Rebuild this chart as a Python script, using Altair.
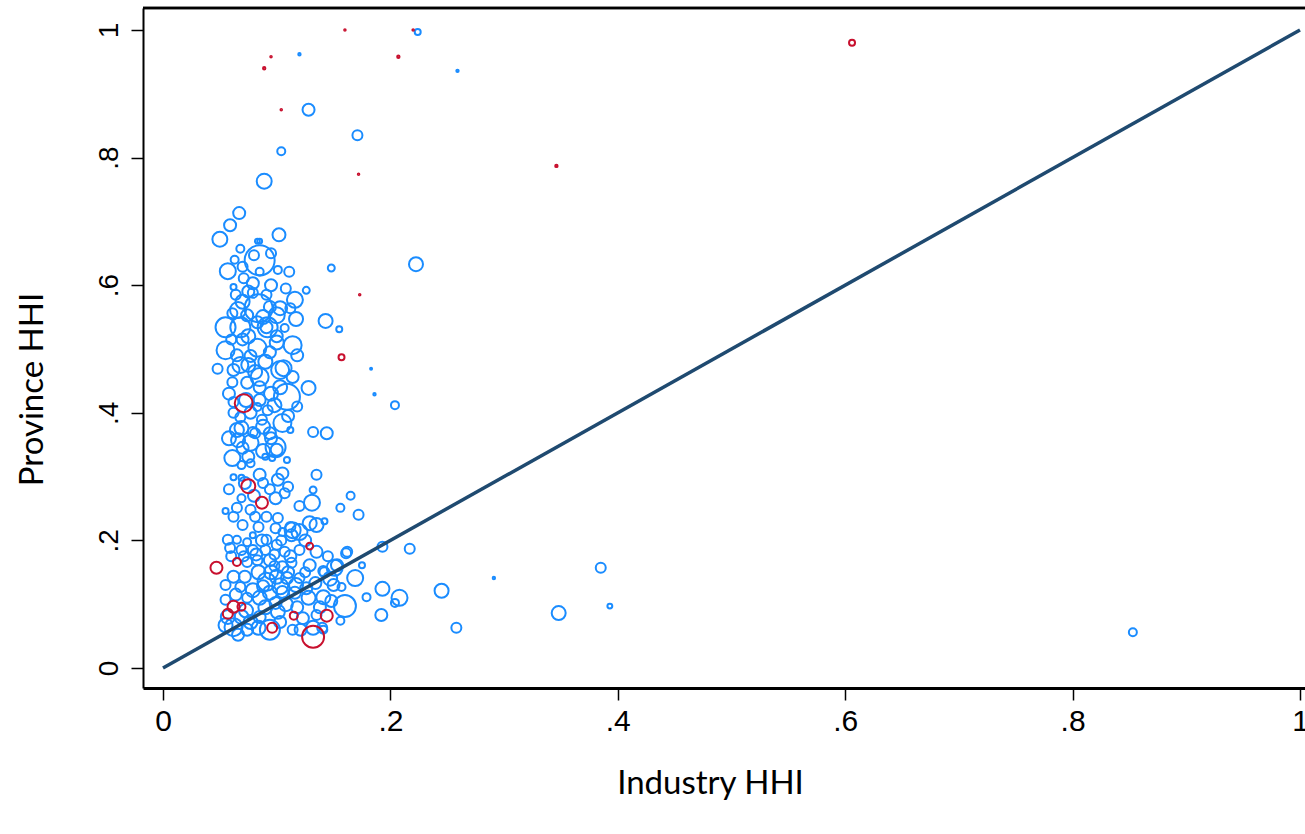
import altair as alt
import pandas as pd

# Each row: (industry HHI, province HHI, employment weight)
blue_outlying = [
    (0.224, 0.997, 9), (0.120, 0.962, 1.4), (0.259, 0.936, 1.4), (0.128, 0.875, 36),
    (0.171, 0.835, 25), (0.104, 0.810, 16), (0.089, 0.763, 56), (0.853, 0.056, 16),
    (0.385, 0.157, 25), (0.393, 0.097, 6), (0.291, 0.141, 1.4), (0.348, 0.086, 49),
    (0.258, 0.063, 25), (0.245, 0.121, 49), (0.2225, 0.633, 49), (0.148, 0.627, 12),
    (0.204, 0.412, 16), (0.183, 0.469, 1), (0.186, 0.429, 1.4), (0.155, 0.531, 9),
    (0.143, 0.544, 49),
]

blue_right = [
    (0.144, 0.368, 36), (0.132, 0.370, 25), (0.135, 0.303, 25), (0.132, 0.279, 12),
    (0.131, 0.259, 64), (0.165, 0.270, 16), (0.156, 0.251, 16), (0.172, 0.240, 25),
    (0.142, 0.230, 9), (0.129, 0.227, 49), (0.114, 0.216, 64), (0.161, 0.180, 25),
    (0.193, 0.190, 25), (0.217, 0.187, 25), (0.175, 0.161, 9), (0.151, 0.157, 64),
    (0.141, 0.152, 25), (0.169, 0.141, 64), (0.157, 0.127, 16), (0.193, 0.124, 49),
    (0.208, 0.110, 64), (0.204, 0.102, 16), (0.179, 0.111, 16), (0.160, 0.097, 121),
    (0.148, 0.105, 36), (0.192, 0.083, 36), (0.156, 0.074, 16), (0.141, 0.060, 16),
]

blue_upper = [
    (0.067, 0.713, 36), (0.059, 0.694, 36), (0.050, 0.672, 56), (0.102, 0.679, 42),
    (0.083, 0.669, 6), (0.085, 0.669, 6), (0.068, 0.657, 16), (0.085, 0.639, 225),
    (0.080, 0.647, 25), (0.057, 0.622, 64), (0.070, 0.629, 25), (0.085, 0.621, 16),
    (0.101, 0.624, 16), (0.111, 0.621, 25), (0.071, 0.611, 25), (0.062, 0.597, 9),
    (0.079, 0.603, 36), (0.126, 0.592, 12), (0.079, 0.588, 25), (0.091, 0.585, 25),
    (0.070, 0.574, 49), (0.116, 0.577, 64), (0.103, 0.564, 49), (0.066, 0.561, 64),
    (0.094, 0.566, 36), (0.112, 0.564, 25), (0.074, 0.553, 36), (0.061, 0.556, 25),
    (0.055, 0.534, 100), (0.117, 0.547, 49), (0.100, 0.553, 64), (0.083, 0.542, 36),
    (0.091, 0.534, 36), (0.107, 0.533, 16), (0.068, 0.534, 100), (0.084, 0.564, 196),
    (0.092, 0.534, 100), (0.075, 0.590, 36), (0.095, 0.600, 36), (0.064, 0.585, 25),
    (0.108, 0.595, 25), (0.088, 0.550, 49), (0.075, 0.520, 49), (0.100, 0.520, 36),
    (0.063, 0.640, 16), (0.095, 0.650, 25),
]

blue_middle = [
    (0.114, 0.506, 81), (0.083, 0.502, 81), (0.055, 0.498, 81), (0.094, 0.495, 36),
    (0.077, 0.489, 36), (0.048, 0.469, 25), (0.062, 0.467, 36), (0.075, 0.475, 49),
    (0.085, 0.456, 81), (0.103, 0.467, 81), (0.114, 0.456, 36), (0.109, 0.425, 169),
    (0.128, 0.439, 49), (0.085, 0.440, 36), (0.061, 0.448, 25), (0.062, 0.417, 25),
    (0.083, 0.409, 16), (0.062, 0.400, 25), (0.092, 0.404, 25), (0.105, 0.384, 81),
    (0.069, 0.376, 49), (0.088, 0.378, 49), (0.081, 0.368, 25), (0.068, 0.475, 64),
    (0.081, 0.464, 49), (0.106, 0.470, 64), (0.074, 0.447, 36), (0.103, 0.440, 49),
    (0.085, 0.420, 36), (0.098, 0.412, 49), (0.077, 0.400, 36), (0.068, 0.393, 25),
    (0.087, 0.389, 25), (0.112, 0.373, 9), (0.065, 0.373, 49), (0.079, 0.370, 25),
    (0.094, 0.368, 36), (0.066, 0.357, 49), (0.077, 0.353, 64), (0.099, 0.346, 100),
    (0.061, 0.329, 64), (0.075, 0.331, 36), (0.090, 0.331, 9), (0.096, 0.329, 9),
    (0.109, 0.326, 9), (0.100, 0.342, 36), (0.069, 0.318, 16), (0.077, 0.321, 16),
    (0.062, 0.299, 9), (0.069, 0.298, 9), (0.085, 0.303, 36), (0.101, 0.295, 36),
    (0.088, 0.290, 25), (0.110, 0.284, 25), (0.072, 0.290, 36), (0.080, 0.270, 36),
    (0.094, 0.280, 25), (0.058, 0.280, 25), (0.105, 0.305, 36), (0.088, 0.340, 49),
    (0.070, 0.345, 36), (0.058, 0.360, 49), (0.095, 0.360, 36), (0.110, 0.395, 36),
    (0.073, 0.420, 49), (0.095, 0.430, 49), (0.058, 0.430, 36), (0.118, 0.410, 25),
    (0.090, 0.480, 49), (0.065, 0.490, 36), (0.100, 0.510, 49), (0.070, 0.515, 36),
    (0.118, 0.490, 36), (0.060, 0.515, 25),
]

blue_lower = [
    (0.069, 0.266, 16), (0.065, 0.251, 25), (0.077, 0.248, 25), (0.099, 0.266, 36),
    (0.107, 0.274, 25), (0.120, 0.254, 25), (0.055, 0.246, 9), (0.062, 0.237, 25),
    (0.081, 0.237, 25), (0.091, 0.237, 25), (0.101, 0.235, 25), (0.070, 0.224, 25),
    (0.084, 0.221, 25), (0.099, 0.219, 25), (0.112, 0.221, 25), (0.120, 0.213, 64),
    (0.135, 0.224, 49), (0.105, 0.213, 16), (0.079, 0.208, 9), (0.057, 0.201, 25),
    (0.065, 0.201, 16), (0.074, 0.197, 16), (0.091, 0.201, 25), (0.100, 0.193, 25),
    (0.113, 0.208, 36), (0.059, 0.188, 25), (0.069, 0.185, 25), (0.079, 0.185, 25),
    (0.090, 0.185, 25), (0.120, 0.185, 25), (0.135, 0.182, 36), (0.107, 0.182, 25),
    (0.074, 0.166, 25), (0.083, 0.169, 25), (0.094, 0.169, 36), (0.105, 0.158, 36),
    (0.113, 0.165, 25), (0.129, 0.161, 36), (0.142, 0.150, 25), (0.153, 0.161, 36),
    (0.162, 0.182, 25), (0.062, 0.143, 36), (0.072, 0.143, 36), (0.084, 0.150, 49),
    (0.091, 0.135, 81), (0.100, 0.143, 49), (0.109, 0.141, 36), (0.120, 0.141, 25),
    (0.134, 0.133, 36), (0.150, 0.130, 36), (0.055, 0.130, 25), (0.068, 0.127, 25),
    (0.079, 0.122, 49), (0.094, 0.118, 49), (0.105, 0.119, 36), (0.116, 0.118, 36),
    (0.128, 0.110, 49), (0.141, 0.111, 49), (0.074, 0.110, 25), (0.085, 0.110, 49),
    (0.099, 0.102, 36), (0.055, 0.107, 25), (0.057, 0.080, 49), (0.069, 0.080, 49),
    (0.077, 0.072, 49), (0.085, 0.080, 36), (0.084, 0.063, 49), (0.103, 0.072, 36),
    (0.114, 0.060, 25), (0.123, 0.078, 36), (0.135, 0.083, 25), (0.132, 0.063, 49),
    (0.140, 0.063, 25), (0.062, 0.064, 81), (0.074, 0.060, 36), (0.094, 0.060, 100),
    (0.055, 0.067, 49), (0.066, 0.052, 36), (0.095, 0.150, 49), (0.103, 0.128, 64),
    (0.110, 0.150, 36), (0.088, 0.128, 36), (0.117, 0.130, 49), (0.125, 0.150, 25),
    (0.098, 0.160, 25), (0.108, 0.100, 49), (0.118, 0.095, 36), (0.090, 0.095, 49),
    (0.126, 0.125, 36), (0.112, 0.175, 36), (0.098, 0.178, 25), (0.082, 0.178, 36),
    (0.071, 0.175, 25), (0.064, 0.115, 36), (0.073, 0.090, 49), (0.060, 0.175, 25),
    (0.087, 0.200, 36), (0.104, 0.200, 25), (0.125, 0.200, 36), (0.145, 0.175, 25),
    (0.147, 0.140, 49), (0.138, 0.095, 36), (0.121, 0.060, 36), (0.101, 0.088, 49),
]

red_points = [
    (0.160, 1.000, 0.6), (0.220, 1.000, 0.6), (0.095, 0.958, 0.6), (0.089, 0.940, 1.4),
    (0.207, 0.958, 1.4), (0.104, 0.875, 0.6), (0.172, 0.774, 0.6), (0.346, 0.787, 1.4),
    (0.606, 0.980, 9), (0.173, 0.585, 0.6), (0.157, 0.487, 9), (0.071, 0.415, 81),
    (0.075, 0.285, 49), (0.087, 0.259, 36), (0.129, 0.191, 12), (0.047, 0.157, 36),
    (0.065, 0.166, 16), (0.062, 0.096, 36), (0.069, 0.096, 16), (0.057, 0.085, 25),
    (0.096, 0.063, 25), (0.115, 0.082, 16), (0.144, 0.082, 36), (0.132, 0.049, 121),
]

diagonal = [0.0, 1.0]
tick_values = [0, 0.2, 0.4, 0.6, 0.8, 1]

BLUE = "#1a8cff"
RED = "#c8102e"
NAVY = "#1f4a70"

records = []
for group, rows in [("other", blue_outlying + blue_right + blue_upper + blue_middle + blue_lower),
                    ("highlight", red_points)]:
    for hx, hy, w in rows:
        records.append({"industry_hhi": hx, "province_hhi": hy, "weight": w, "group": group})
df = pd.DataFrame(records)
df["draw_order"] = range(len(df))

diag_df = pd.DataFrame({"industry_hhi": diagonal, "province_hhi": diagonal})

label_expr = ("datum.value == 0 ? '0' : datum.value == 1 ? '1' : "
              "replace(format(datum.value, '.1f'), '0.', '.')")

x_scale = alt.Scale(domain=[-0.0176, 1.0044], nice=False, zero=False)
y_scale = alt.Scale(domain=[-0.0314, 1.0345], nice=False, zero=False)

x_axis = alt.Axis(
    values=tick_values, labelExpr=label_expr, grid=False,
    tickSize=12, tickWidth=1.5, tickColor="black",
    domainColor="black", domainWidth=3,
    labelFont="Liberation Sans", labelFontSize=30, labelColor="black", labelPadding=6,
    title="Industry HHI", titleFont="Lato", titleFontSize=33, titleFontWeight="normal",
    titleColor="black", titleX=567, titleY=105, titleBaseline="alphabetic", titleAlign="center",
)
y_axis = alt.Axis(
    values=tick_values, labelExpr=label_expr, grid=False,
    tickSize=12, tickWidth=1.5, tickColor="black",
    domainColor="black", domainWidth=2,
    labelFont="Liberation Sans", labelFontSize=28, labelColor="black",
    labelAngle=270, labelAlign="center", labelBaseline="alphabetic", labelPadding=14,
    title="Province HHI", titleFont="Lato", titleFontSize=33, titleFontWeight="normal",
    titleColor="black", titleAngle=270, titleX=-101, titleY=381,
    titleBaseline="alphabetic", titleAlign="center",
)

points = alt.Chart(df).mark_point(shape="circle", filled=False, strokeWidth=2, opacity=1).encode(
    x=alt.X("industry_hhi:Q", scale=x_scale, axis=x_axis),
    y=alt.Y("province_hhi:Q", scale=y_scale, axis=y_axis),
    size=alt.Size("weight:Q", scale=alt.Scale(type="linear", domain=[0, 225], range=[0, 900]),
                  legend=None),
    color=alt.Color("group:N", scale=alt.Scale(domain=["other", "highlight"], range=[BLUE, RED]),
                    legend=None),
    order=alt.Order("draw_order:Q"),
)

line = alt.Chart(diag_df).mark_line(color=NAVY, strokeWidth=3.5).encode(
    x=alt.X("industry_hhi:Q", scale=x_scale),
    y=alt.Y("province_hhi:Q", scale=y_scale),
)

# Top edge of the plot region (the right edge runs off the page)
top_edge = alt.Chart(diag_df).mark_rule(color="black", strokeWidth=2.5).encode(
    x=alt.value(0), x2=alt.value(1162), y=alt.value(0),
)

chart = alt.layer(points, line, top_edge).properties(
    width=1162, height=680,
    padding={"left": 143, "top": 8, "right": 0, "bottom": 146},
    autosize="none",
    background="white",
).configure_view(strokeWidth=0)

chart.save("out.html", embed_options={"renderer": "svg", "actions": False})
